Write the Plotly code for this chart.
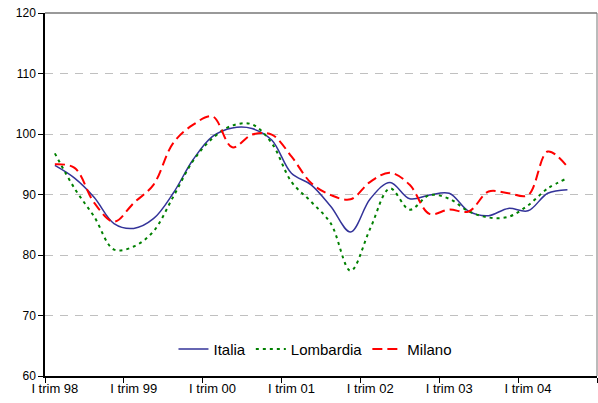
import plotly.graph_objects as go

categories = [f"{q} trim {y:02d}" for y in [98, 99, 0, 1, 2, 3, 4] for q in ["I", "II", "III", "IV"]]

italia = [94.8, 92.7, 89.5, 85.2, 84.4, 86.0, 90.2, 95.7, 99.6, 101.0, 100.9, 99.0, 93.5,
          91.6, 88.0, 83.8, 89.3, 92.0, 89.3, 89.9, 90.2, 87.2, 86.5, 87.7, 87.3, 90.2, 90.8]
lombardia = [96.8, 91.0, 86.3, 80.9, 81.4, 83.9, 89.6, 95.5, 99.3, 101.4, 101.6, 98.5, 92.1,
             88.8, 85.2, 77.4, 84.4, 91.0, 87.5, 89.9, 89.3, 87.2, 86.2, 86.3, 88.2, 91.0, 92.7]
milano = [95.0, 94.4, 88.6, 85.5, 88.6, 91.6, 98.5, 101.5, 102.9, 97.8, 99.9, 99.9, 96.3,
          91.9, 89.9, 89.2, 92.1, 93.6, 91.6, 86.8, 87.5, 87.2, 90.5, 90.2, 89.9, 97.1, 94.6]

tick_labels = ["I trim 98", "I trim 99", "I trim 00", "I trim 01", "I trim 02", "I trim 03", "I trim 04"]

idx = list(range(len(italia)))
tick_idx = [categories.index(t) for t in tick_labels]

fig = go.Figure()
fig.add_trace(go.Scatter(x=idx, y=italia, name="Italia", mode="lines",
                         line=dict(color="#333399", width=1.5, shape="spline", smoothing=1.0)))
fig.add_trace(go.Scatter(x=idx, y=lombardia, name="Lombardia", mode="lines",
                         line=dict(color="#008000", width=2, dash="3px,4px", shape="spline", smoothing=1.0)))
fig.add_trace(go.Scatter(x=idx, y=milano, name="Milano", mode="lines",
                         line=dict(color="#FF0000", width=2, dash="10px,5px", shape="spline", smoothing=1.0)))

fig.update_layout(
    width=598, height=403,
    margin=dict(l=45, r=1, t=13, b=27),
    paper_bgcolor="white", plot_bgcolor="white",
    font=dict(family="Liberation Sans, Arial", color="black"),
    showlegend=True,
    legend=dict(orientation="h", x=0.49, y=0.074, xanchor="center", yanchor="middle",
                font=dict(size=15), bgcolor="rgba(0,0,0,0)", itemwidth=30),
    xaxis=dict(range=[-0.5, len(categories) - 0.5], tickmode="array", tickvals=tick_idx,
               ticktext=tick_labels, ticks="", showgrid=False, zeroline=False,
               showline=True, linecolor="black", linewidth=1.5, tickfont=dict(size=13),
               minor=dict(tickmode="linear", tick0=-0.5, dtick=4, ticks="outside", ticklen=5,
                          tickcolor="black", showgrid=False)),
    yaxis=dict(range=[60, 120], dtick=10, tick0=60, ticks="outside", ticklen=5, tickcolor="black",
               showgrid=True, gridcolor="#c0c0c0", griddash="8px,7px", gridwidth=1,
               zeroline=False, showline=True, linecolor="black", linewidth=1.5,
               tickfont=dict(size=12)),
    shapes=[
        dict(type="line", xref="paper", yref="paper", x0=0, x1=1, y0=1, y1=1,
             line=dict(color="#777777", width=1.5)),
        dict(type="line", xref="paper", yref="paper", x0=1, x1=1, y0=0, y1=1,
             line=dict(color="#777777", width=1)),
    ],
)

fig.write_html("out.html", config={"displayModeBar": False},
               post_script="document.body.style.margin='0px';document.body.style.overflow='hidden';")
